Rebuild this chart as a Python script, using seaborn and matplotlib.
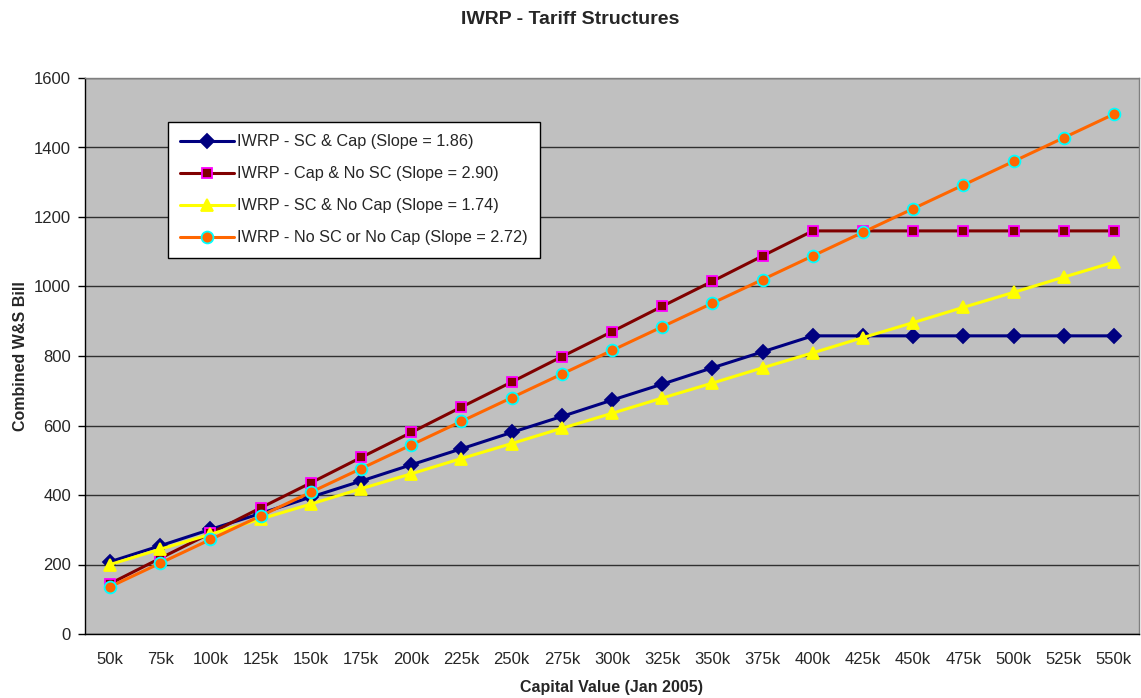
import matplotlib
matplotlib.use('Agg')
import matplotlib.pyplot as plt
import seaborn as sns
import numpy as np

# data
capital = ['50k', '75k', '100k', '125k', '150k', '175k', '200k', '225k', '250k', '275k', '300k',
           '325k', '350k', '375k', '400k', '425k', '450k', '475k', '500k', '525k', '550k']
sc_cap = [208, 254, 301, 347, 394, 440, 487, 533, 580, 626, 673,
          719, 766, 812, 858, 858, 858, 858, 858, 858, 858]
cap_no_sc = [145, 218, 290, 363, 435, 508, 580, 653, 725, 798, 870,
             943, 1015, 1088, 1160, 1160, 1160, 1160, 1160, 1160, 1160]
sc_no_cap = [200, 244, 287, 331, 374, 418, 461, 505, 548, 592, 635,
             679, 722, 766, 809, 853, 896, 940, 983, 1027, 1070]
no_sc_no_cap = [136, 204, 272, 340, 408, 476, 544, 612, 680, 748, 816,
                884, 952, 1020, 1088, 1156, 1224, 1292, 1360, 1428, 1496]

sns.set_style('white')
plt.rcParams['font.family'] = ['Liberation Sans', 'DejaVu Sans']

fig = plt.figure(figsize=(11.41, 6.98), dpi=100)
ax = fig.add_axes([85 / 1141, 64 / 698, 1054 / 1141, 556 / 698])
ax.set_facecolor('#C0C0C0')

x = np.arange(len(capital))
series = [
    (sc_cap, 'IWRP - SC & Cap (Slope = 1.86)', '#000080', 'D', '#000080', '#000080', 7),
    (cap_no_sc, 'IWRP - Cap & No SC (Slope = 2.90)', '#800000', 's', '#800000', '#FF00FF', 6.5),
    (sc_no_cap, 'IWRP - SC & No Cap (Slope = 1.74)', '#FFFF00', '^', '#FFFF00', '#FFFF00', 8.5),
    (no_sc_no_cap, 'IWRP - No SC or No Cap (Slope = 2.72)', '#FF6600', 'o', '#FF6600', '#00FFFF', 8.5),
]
for vals, name, col, mk, fc, ec, ms in series:
    sns.lineplot(x=x, y=vals, ax=ax, color=col, linewidth=2.2, label=name,
                 marker=mk, markersize=ms, markerfacecolor=fc, markeredgecolor=ec,
                 markeredgewidth=1.3)

ax.set_xlim(-0.5, len(capital) - 0.5)
ax.set_ylim(0, 1600)
ax.set_yticks(range(0, 1601, 200))
ax.yaxis.grid(True, color='#303030', linewidth=1)
ax.set_axisbelow(True)

ax.set_xticks(x)
ax.set_xticklabels(capital, fontsize=12)
ax.set_xticks(np.arange(-0.5, len(capital)), minor=True)
ax.tick_params(axis='x', which='major', length=0, pad=13)
ax.tick_params(axis='x', which='minor', length=5, color='black', width=1)
ax.tick_params(axis='y', length=5, color='black', width=1, labelsize=12, pad=5, left=True)

for s in ['left', 'bottom']:
    ax.spines[s].set_color('black')
    ax.spines[s].set_linewidth(1)
for s in ['top', 'right']:
    ax.spines[s].set_color('#808080')
    ax.spines[s].set_linewidth(1)

ax.set_xlabel('Capital Value (Jan 2005)', fontsize=11.5, fontweight='bold', labelpad=9)
ax.set_ylabel('Combined W&S Bill', fontsize=11.5, fontweight='bold', labelpad=4)
fig.text(0.5, 1 - 19 / 698, 'IWRP - Tariff Structures', ha='center', va='center',
         fontsize=14, fontweight='bold')

leg = ax.legend(loc='upper left', bbox_to_anchor=(168 / 1141, 1 - 122 / 698),
                bbox_transform=fig.transFigure, fontsize=11.7, frameon=True, fancybox=False,
                edgecolor='black', framealpha=1, borderpad=0.75, labelspacing=1.05,
                handlelength=3.3, handletextpad=0.2, borderaxespad=0)
leg.get_frame().set_linewidth(1)

fig.savefig('out.png', dpi=100)
